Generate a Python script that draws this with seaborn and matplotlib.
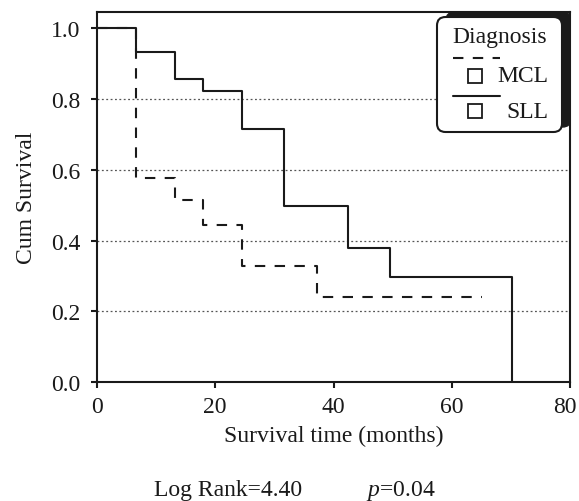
import matplotlib
matplotlib.use('Agg')
import matplotlib.pyplot as plt
import matplotlib.transforms as mtransforms
from matplotlib.patches import FancyBboxPatch
import seaborn as sns

# Kaplan-Meier step values
sll_time = [0, 6.6, 13.2, 18.0, 24.5, 31.6, 42.5, 49.6, 70.2]
sll_surv = [1.0, 0.933, 0.858, 0.822, 0.715, 0.497, 0.378, 0.298, 0.0]
mcl_time = [0, 6.6, 13.2, 18.0, 24.5, 37.2, 65.1]
mcl_surv = [1.0, 0.578, 0.514, 0.443, 0.328, 0.241, 0.241]

groups = ['MCL', 'SLL']
x_ticks = [0, 20, 40, 60, 80]
y_ticks = [0.0, 0.2, 0.4, 0.6, 0.8, 1.0]
grid_levels = [0.2, 0.4, 0.6, 0.8]
log_rank = '4.40'
p_value = '0.04'

sns.set_theme(style='ticks')
plt.rcParams['font.family'] = ['Liberation Serif', 'DejaVu Serif']
plt.rcParams['mathtext.fontset'] = 'custom'
plt.rcParams['mathtext.rm'] = 'Liberation Serif'
plt.rcParams['mathtext.it'] = 'Liberation Serif:italic'

FS = 17
DASH = (0, (5, 4.5))

fig = plt.figure(figsize=(5.79, 5.02), dpi=100)
# axes box in pixels: left 97, right 570, top 13, bottom 383
ax = fig.add_axes([97 / 579, 1 - 383 / 502, 473 / 579, 370 / 502])

for lv in grid_levels:
    ax.axhline(lv, color='#555555', lw=0.9, ls=(0, (1.5, 2)), zorder=1)

sns.lineplot(x=mcl_time, y=mcl_surv, drawstyle='steps-post', estimator=None, sort=False,
             color='#1a1a1a', lw=1.5, linestyle=DASH, legend=False, ax=ax, zorder=3)
sns.lineplot(x=sll_time, y=sll_surv, drawstyle='steps-post', estimator=None, sort=False,
             color='#1a1a1a', lw=1.5, legend=False, ax=ax, zorder=4)

ax.set_xlim(0, 80)
ax.set_ylim(0, 1.046)
ax.set_xticks(x_ticks)
ax.set_yticks(y_ticks)
ax.set_yticklabels([f'{v:.1f}' for v in y_ticks])
for s in ax.spines.values():
    s.set_visible(True)
    s.set_linewidth(1.5)
    s.set_color('#1a1a1a')
ax.tick_params(axis='both', direction='out', length=4, width=1.5, labelsize=FS,
               colors='#1a1a1a')
ax.tick_params(axis='y', pad=8)
ax.tick_params(axis='x', pad=6)
ax.set_xlabel('Survival time (months)', fontsize=FS, labelpad=6, color='#1a1a1a')
ax.set_ylabel('Cum Survival', fontsize=FS, labelpad=10, color='#1a1a1a')

# last x tick label sits a little left of its tick, as in the original
last = ax.get_xticklabels()[-1]
last.set_transform(last.get_transform() +
                   mtransforms.ScaledTranslation(-5 / 100, 0, fig.dpi_scale_trans))


# hand-built SPSS style legend (pixel positions converted to axes coords)
def ax_x(px):
    return (px - 97) / 473


def ax_y(py):
    return (383 - py) / 370


asp = 473 / 370
box_w = ax_x(562) - ax_x(437)
box_h = ax_y(18) - ax_y(133)
shadow = FancyBboxPatch((ax_x(446), ax_y(128)), box_w, box_h,
                        boxstyle='round,pad=0,rounding_size=0.018', mutation_aspect=asp,
                        transform=ax.transAxes, fc='#1a1a1a', ec='#1a1a1a', lw=1,
                        clip_on=True, zorder=6)
frame = FancyBboxPatch((ax_x(437), ax_y(133)), box_w, box_h,
                       boxstyle='round,pad=0,rounding_size=0.018', mutation_aspect=asp,
                       transform=ax.transAxes, fc='white', ec='#1a1a1a', lw=1.5,
                       clip_on=False, zorder=7)
ax.add_patch(shadow)
ax.add_patch(frame)

ax.text(ax_x(500), ax_y(37), 'Diagnosis', transform=ax.transAxes, fontsize=FS,
        ha='center', va='center', zorder=8, color='#1a1a1a')
styles = [DASH, '-']
rows = [(59, 77), (97, 112)]
for name, ls, (ly, ty) in zip(groups, styles, rows):
    ax.plot([ax_x(453), ax_x(500)], [ax_y(ly), ax_y(ly)], transform=ax.transAxes,
            color='#1a1a1a', lw=1.5, ls=ls, clip_on=False, zorder=8)
    ax.plot([ax_x(475)], [ax_y(ty)], transform=ax.transAxes, marker='s', ms=10,
            mfc='white', mec='#1a1a1a', mew=1.3, ls='none', clip_on=False, zorder=8)
    ax.text(ax_x(548), ax_y(ty), name, transform=ax.transAxes, fontsize=FS,
            ha='right', va='center', zorder=8, color='#1a1a1a')

fig.text(228 / 579, 1 - 491 / 502, f'Log Rank={log_rank}', fontsize=FS,
         ha='center', va='center', color='#1a1a1a')
fig.text(401 / 579, 1 - 491 / 502, f'$p$={p_value}', fontsize=FS,
         ha='center', va='center', color='#1a1a1a')

fig.savefig('out.png', dpi=100, facecolor='white')
